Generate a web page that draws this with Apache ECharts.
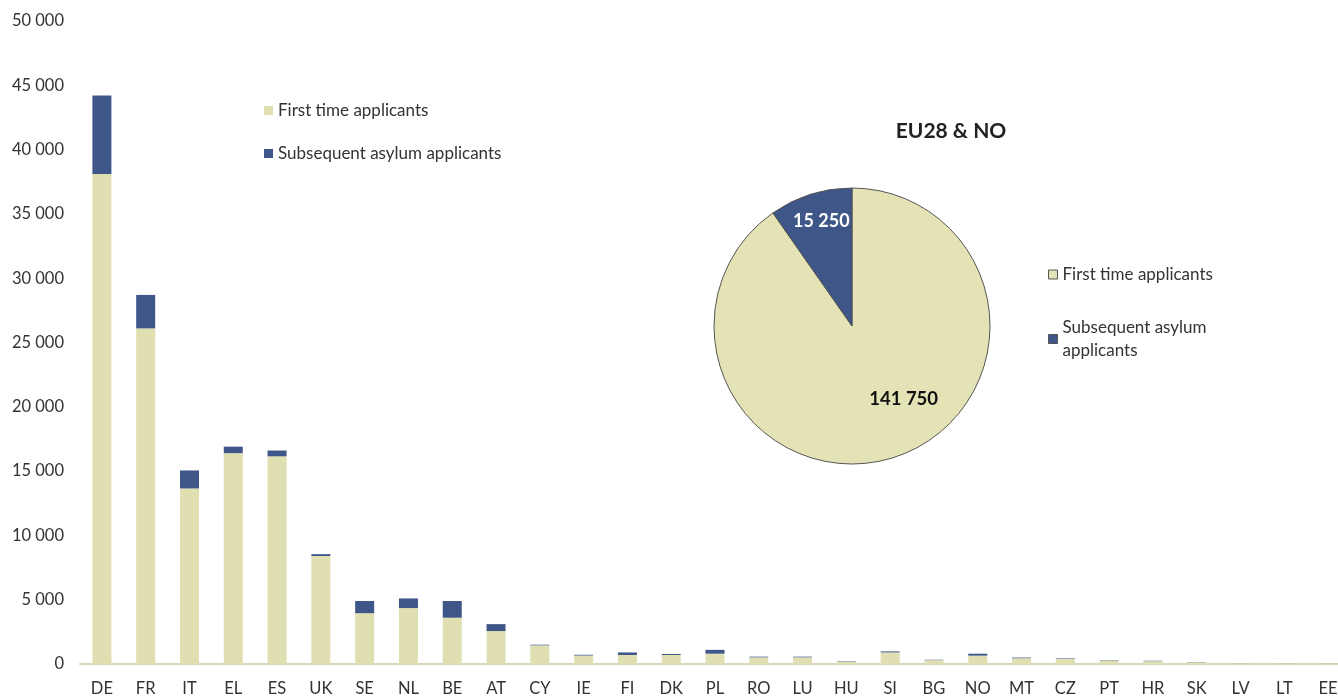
<!DOCTYPE html>
<html>
<head>
<meta charset="utf-8">
<script src="https://cdn.jsdelivr.net/npm/echarts@6/dist/echarts.min.js"></script>
<style>
html,body{margin:0;padding:0;background:#fff;overflow:hidden;}
#main{width:1370px;height:697px;}
</style>
</head>
<body>
<div id="main"></div>
<script>
const categories = ['DE','FR','IT','EL','ES','UK','SE','NL','BE','AT','CY','IE','FI','DK','PL','RO','LU','HU','SI','BG','NO','MT','CZ','PT','HR','SK','LV','LT','EE'];
const firstTime = [38100,26100,13650,16400,16150,8400,3950,4350,3600,2560,1450,660,700,700,800,520,520,200,900,300,650,450,400,270,220,130,20,20,20];
const subsequent = [6100,2600,1400,500,450,140,950,750,1300,540,50,60,200,80,300,50,50,30,80,30,150,50,40,30,30,20,5,5,5];
const pieNames = ['First time applicants','Subsequent asylum applicants'];
const pieValues = [141750, 15250];
const yTicks = [0,5000,10000,15000,20000,25000,30000,35000,40000,45000,50000];

const FONT = 'Lato, "Open Sans", sans-serif';
const C_FIRST = '#dfdfb1';
const C_SUB = '#3f5688';
const C_PIE_FIRST = '#e4e3b6';

function fmt(v){ return String(v).replace(/\B(?=(\d{3})+(?!\d))/g, ' '); }

const chart = echarts.init(document.getElementById('main'));
chart.setOption({
  animation: false,
  backgroundColor: '#fff',
  title: {
    text: 'EU28 & NO',
    left: 946, top: 116, textAlign: 'center',
    textStyle: {fontFamily: FONT, fontSize: 21, fontWeight: 'bold', color: '#222'}
  },
  legend: [
    {
      data: [pieNames[0], pieNames[1]],
      orient: 'vertical', left: 259, top: 97,
      itemWidth: 9, itemHeight: 9, itemGap: 26,
      icon: 'rect',
      textStyle: {fontFamily: FONT, fontSize: 17, color: '#333'},
      selectedMode: false
    },
    {
      data: [
        {name: pieNames[0], itemStyle: {color: C_PIE_FIRST, borderColor: '#555', borderWidth: 1}},
        {name: pieNames[1], itemStyle: {color: C_SUB, borderColor: '#555', borderWidth: 1}}
      ],
      orient: 'vertical', left: 1043, top: 258,
      itemWidth: 9, itemHeight: 9, itemGap: 30,
      icon: 'rect',
      formatter: function(n){ return n === pieNames[1] ? 'Subsequent asylum\napplicants' : n; },
      textStyle: {fontFamily: FONT, fontSize: 17, color: '#333', lineHeight: 23},
      selectedMode: false
    }
  ],
  grid: {left: 80, top: 21, width: 1270, height: 644, containLabel: false},
  xAxis: {
    type: 'category',
    data: categories,
    axisLine: {show: true, lineStyle: {color: '#d8d6bd', width: 2}},
    axisTick: {show: false},
    axisLabel: {fontFamily: FONT, fontSize: 16.5, color: '#333', margin: 16, interval: 0}
  },
  yAxis: {
    type: 'value', min: 0, max: 50000, interval: 5000,
    splitLine: {show: false},
    axisLine: {show: false},
    axisTick: {show: false},
    axisLabel: {fontFamily: FONT, fontSize: 16.5, color: '#333', margin: 16,
      formatter: function(v){ return yTicks.indexOf(v) >= 0 ? fmt(v) : ''; }}
  },
  series: [
    {name: pieNames[0], type: 'bar', stack: 'a', data: firstTime, barWidth: 19,
      itemStyle: {color: C_FIRST}},
    {name: pieNames[1], type: 'bar', stack: 'a', data: subsequent, barWidth: 19,
      itemStyle: {color: C_SUB}},
    {
      name: 'EU28 & NO', type: 'pie',
      center: [852, 326], radius: 138,
      startAngle: 90, clockwise: true,
      itemStyle: {borderColor: '#555', borderWidth: 1},
      labelLine: {show: false},
      data: [
        {name: pieNames[0], value: pieValues[0], itemStyle: {color: C_PIE_FIRST},
          label: {show: true, position: 'inside', offset: [30, 4], color: '#111', fontSize: 18.5, fontWeight: 'bold', fontFamily: FONT,
            formatter: function(p){ return fmt(p.value); }}},
        {name: pieNames[1], value: pieValues[1], itemStyle: {color: C_SUB},
          label: {show: true, position: 'inside', offset: [-9, -36], color: '#fff', fontSize: 18, fontWeight: 'bold', fontFamily: FONT,
            formatter: function(p){ return fmt(p.value); }}}
      ]
    }
  ]
});
</script>
</body>
</html>
